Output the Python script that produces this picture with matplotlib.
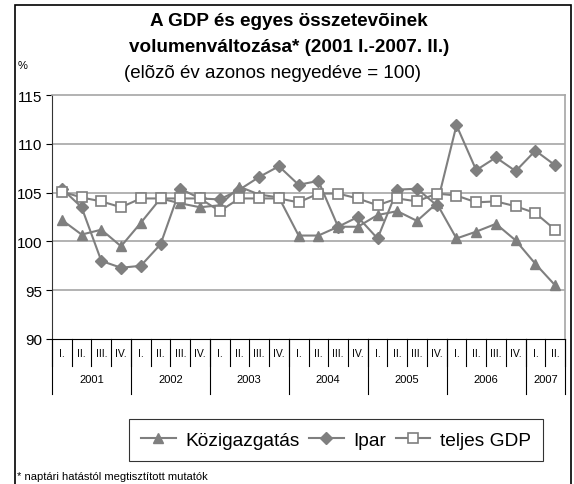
import matplotlib.pyplot as plt
import matplotlib.patches as patches
import matplotlib.transforms as transforms

plt.rcParams['font.family'] = ['Liberation Sans', 'DejaVu Sans']

quarters = ['I.', 'II.', 'III.', 'IV.'] * 6 + ['I.', 'II.']
years = ['2001', '2002', '2003', '2004', '2005', '2006', '2007']
year_len = [4, 4, 4, 4, 4, 4, 2]

kozig = [102.2, 100.7, 101.2, 99.5, 101.9, 104.4, 103.9, 103.5, 103.7, 105.6,
         104.8, 104.5, 100.6, 100.6, 101.5, 101.5, 102.7, 103.1, 102.1, 103.9,
         100.3, 101.0, 101.8, 100.1, 97.7, 95.5]
ipar = [105.4, 103.5, 98.0, 97.3, 97.5, 99.7, 105.4, 104.4, 104.3, 105.3,
        106.6, 107.7, 105.8, 106.2, 101.5, 102.5, 100.3, 105.3, 105.4, 103.7,
        111.9, 107.3, 108.6, 107.2, 109.3, 107.8]
gdp = [105.1, 104.5, 104.1, 103.5, 104.4, 104.4, 104.4, 104.4, 103.1, 104.4,
       104.4, 104.4, 104.0, 104.9, 104.9, 104.4, 103.7, 104.4, 104.1, 104.9,
       104.7, 104.0, 104.1, 103.6, 102.9, 101.2]

W, H = 574, 485
fig = plt.figure(figsize=(W / 100, H / 100), dpi=100)
ax = fig.add_axes([52 / W, 1 - 340 / H, (565 - 52) / W, (340 - 96) / H])

x = [i + 0.5 for i in range(len(quarters))]
col = '#7f7f7f'
ax.plot(x, kozig, color=col, lw=1.5, marker='^', ms=7.5, mfc=col, mec=col,
        label='Közigazgatás', zorder=3)
ax.plot(x, ipar, color=col, lw=1.5, marker='D', ms=6, mfc=col, mec=col,
        label='Ipar', zorder=3)
ax.plot(x, gdp, color=col, lw=1.5, marker='s', ms=7.5, mfc='white', mec=col,
        mew=1.2, label='teljes GDP', zorder=4)

ax.set_xlim(0, len(quarters))
ax.set_ylim(90, 115)
ax.set_yticks([90, 95, 100, 105, 110, 115])
ax.tick_params(axis='y', labelsize=11, length=4, direction='out', pad=3)
ax.set_xticks([])
for y in [95, 100, 105, 110]:
    ax.axhline(y, color='#a6a6a6', lw=1.2, zorder=1)
ax.spines['top'].set_color('#a6a6a6')
ax.spines['right'].set_color('#a6a6a6')
ax.spines['top'].set_linewidth(1.2)
ax.spines['right'].set_linewidth(1.2)
ax.spines['left'].set_color('#333333')
ax.spines['bottom'].set_color('black')

# category axis: quarters and years
trans = transforms.blended_transform_factory(ax.transData, ax.transAxes)
for i, q in enumerate(quarters):
    ax.text(i + 0.5, -0.057, q, transform=trans, ha='center', va='center', fontsize=7.5)
    ax.plot([i, i], [0, -0.111], transform=trans, color='black', lw=0.8, clip_on=False)
ax.plot([len(quarters)] * 2, [0, -0.111], transform=trans, color='black', lw=0.8, clip_on=False)
start = 0
for yr, n in zip(years, year_len):
    ax.text(start + n / 2, -0.164, yr, transform=trans, ha='center', va='center', fontsize=8)
    ax.plot([start, start], [0, -0.225], transform=trans, color='black', lw=0.8, clip_on=False)
    start += n
ax.plot([start, start], [0, -0.225], transform=trans, color='black', lw=0.8, clip_on=False)

# titles
fig.text(289 / W, 1 - 22 / H, 'A GDP és egyes összetevõinek', ha='center', va='center',
         fontsize=13.6, fontweight='bold')
fig.text(289 / W, 1 - 47 / H, 'volumenváltozása* (2001 I.-2007. II.)', ha='center',
         va='center', fontsize=13.6, fontweight='bold')
fig.text(273 / W, 1 - 74 / H, '(elõzõ év azonos negyedéve = 100)', ha='center',
         va='center', fontsize=13.5)
fig.text(18 / W, 1 - 66 / H, '%', ha='left', va='center', fontsize=8)
fig.text(17 / W, 1 - 477 / H, '* naptári hatástól megtisztított mutatók', ha='left',
         va='center', fontsize=8)

leg = fig.legend(ncol=3, loc='center', bbox_to_anchor=(336 / W, 1 - 441 / H),
                 fontsize=13.8, fancybox=False, edgecolor='black', handlelength=1.8,
                 columnspacing=0.5, handletextpad=0.5, borderpad=0.65)
leg.get_frame().set_linewidth(0.8)

# outer border
fig.add_artist(patches.Rectangle((15 / W, -0.05), (571 - 15) / W, 1 - 6 / H + 0.05,
                                 transform=fig.transFigure, fill=False,
                                 edgecolor='black', lw=1.2, clip_on=False))

fig.savefig('out.png', dpi=100)
